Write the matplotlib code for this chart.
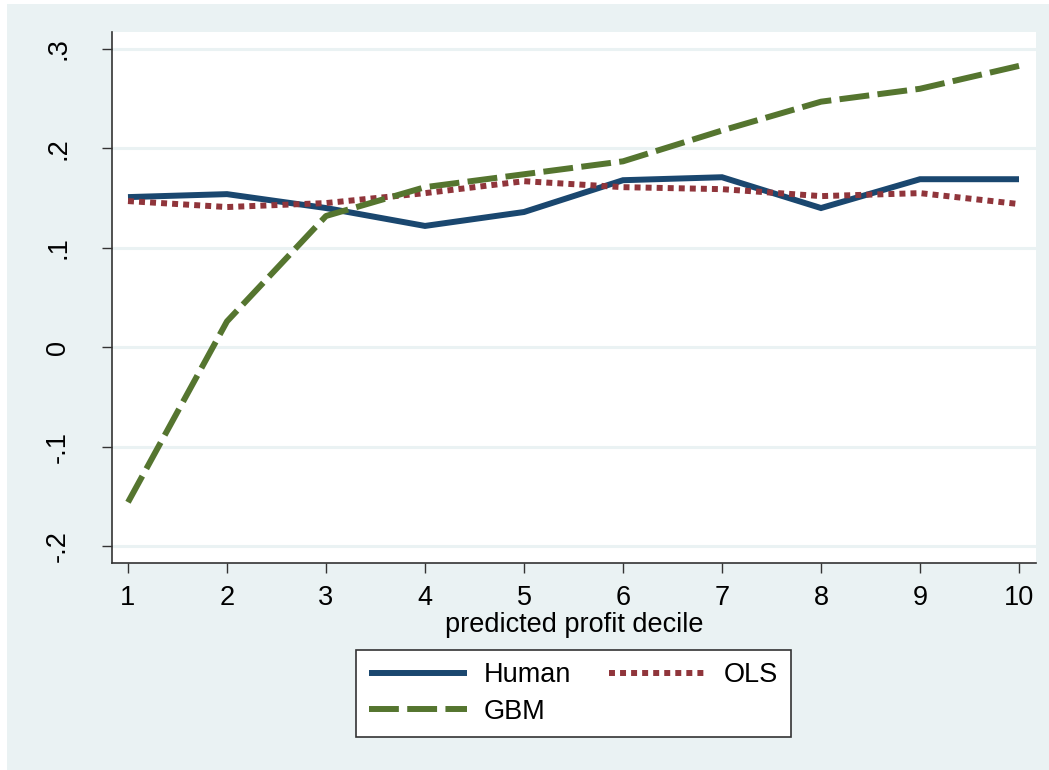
import numpy as np
import matplotlib.pyplot as plt
from matplotlib.patches import Rectangle

plt.rcParams['font.family'] = ['Liberation Sans', 'DejaVu Sans']

# returns by predicted profit decile
deciles = np.arange(1, 11)
human = [0.151, 0.154, 0.140, 0.122, 0.136, 0.168, 0.171, 0.140, 0.169, 0.169]
ols = [0.147, 0.141, 0.145, 0.155, 0.167, 0.161, 0.159, 0.152, 0.155, 0.144]
gbm = [-0.156, 0.026, 0.132, 0.161, 0.174, 0.187, 0.218, 0.247, 0.260, 0.283]

y_ticks = [-0.2, -0.1, 0, 0.1, 0.2, 0.3]
y_tick_labels = ['-.2', '-.1', '0', '.1', '.2', '.3']

bg = '#eaf2f3'
c_human = '#1a476f'
c_ols = '#90353b'
c_gbm = '#55752f'
fs = 19.5

fig = plt.figure(figsize=(10.49, 7.7), dpi=100, facecolor='white')
# stata-style outer panel
fig.patches.append(Rectangle((7 / 1049, 0), 1 - 7 / 1049, 1 - 4 / 770,
                             transform=fig.transFigure, facecolor=bg,
                             edgecolor='none', zorder=-10))

ax = fig.add_axes([112 / 1049, 207 / 770, 924 / 1049, 531 / 770])
ax.set_facecolor('white')

lw = 4.3
ax.plot(deciles, human, color=c_human, lw=lw, solid_joinstyle='miter',
        solid_capstyle='butt', label='Human', zorder=3)
ax.plot(deciles, ols, color=c_ols, lw=lw, dashes=(1.0, 0.85),
        dash_capstyle='butt', label='OLS', zorder=3)
ax.plot(deciles, gbm, color=c_gbm, lw=lw, dashes=(5.0, 1.4),
        dash_capstyle='butt', label='GBM', zorder=3)

ax.set_xlim(1 - 16 / 99, 10 + 17 / 99)
ax.set_ylim(-0.2 - 17 / 994, 0.3 + 17 / 994)

ax.set_xticks(deciles)
ax.set_yticks(y_ticks)
ax.set_yticklabels(y_tick_labels, rotation=90, va='center')
for y in y_ticks:
    ax.axhline(y, color=bg, lw=2.2, zorder=1)

for side in ['top', 'right']:
    ax.spines[side].set_visible(False)
for side in ['left', 'bottom']:
    ax.spines[side].set_color('#333333')
    ax.spines[side].set_linewidth(1.2)

ax.tick_params(axis='both', length=7.5, width=1, color='#333333',
               labelsize=fs, direction='out')
ax.tick_params(axis='x', pad=8)
ax.tick_params(axis='y', pad=22)

ax.set_xlabel('predicted profit decile', fontsize=fs, labelpad=1)

handles, labels = ax.get_legend_handles_labels()
order = [0, 2, 1]
leg = fig.legend([handles[i] for i in order], [labels[i] for i in order],
                 ncol=2, loc='center', bbox_to_anchor=(573.5 / 1049, 1 - 693.5 / 770),
                 fontsize=fs, frameon=True, fancybox=False, framealpha=1,
                 handlelength=3.65, handletextpad=0.6, columnspacing=1.4,
                 labelspacing=0.4, borderpad=0.45)
leg.get_frame().set_edgecolor('#333333')
leg.get_frame().set_linewidth(1.2)
leg.get_frame().set_facecolor('white')

fig.savefig('out.png', dpi=100, facecolor='white')
